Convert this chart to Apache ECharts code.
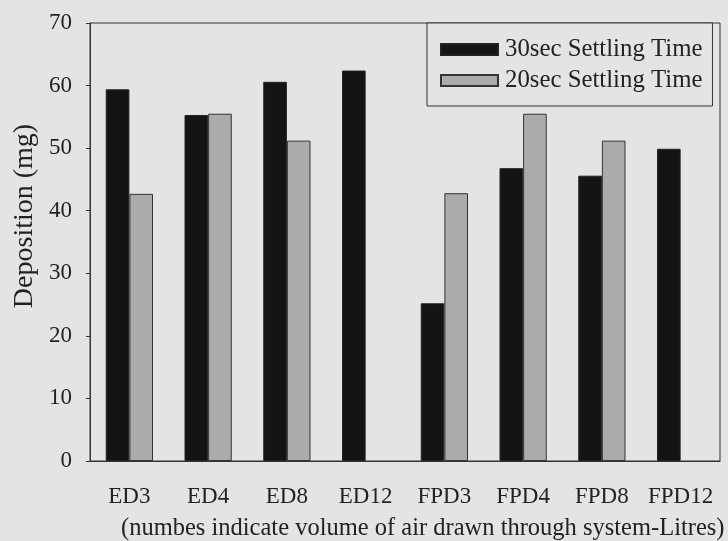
<!DOCTYPE html>
<html>
<head>
<meta charset="utf-8">
<script src="https://cdn.jsdelivr.net/npm/echarts@6/dist/echarts.min.js"></script>
<style>
  html, body { margin: 0; padding: 0; background: #e4e4e4; }
  #chart { width: 728px; height: 541px; }
</style>
</head>
<body>
<div id="chart"></div>
<script>
// Sampling configurations (number = litres of air drawn through the system)
const categories = ['ED3', 'ED4', 'ED8', 'ED12', 'FPD3', 'FPD4', 'FPD8', 'FPD12'];
// Deposition in mg for each settling time
const settling30 = [59.4, 55.3, 60.6, 62.4, 25.2, 46.8, 45.6, 49.9];
const settling20 = [42.7, 55.5, 51.2, null, 42.8, 55.5, 51.2, null];
const seriesNames = ['30sec Settling Time', '20sec Settling Time'];
const yTicks = { min: 0, max: 70, interval: 10 };

const serif = '"Liberation Serif", "Times New Roman", serif';
const ink = '#222';

const chart = echarts.init(document.getElementById('chart'), null, { renderer: 'canvas' });
chart.setOption({
  backgroundColor: '#e4e4e4',
  animation: false,
  textStyle: { fontFamily: serif, color: ink },
  grid: {
    left: 90, right: 8, top: 23, bottom: 80,
    show: true, borderColor: '#333', borderWidth: 1, backgroundColor: 'transparent'
  },
  legend: {
    left: 427, top: 23,
    orient: 'vertical',
    icon: 'rect',
    itemWidth: 57, itemHeight: 11,
    itemGap: 6,
    padding: [14, 10, 13, 13],
    borderColor: '#333', borderWidth: 1,
    backgroundColor: '#e4e4e4',
    textStyle: { fontFamily: serif, fontSize: 24.8, color: ink, padding: [0, 0, 0, 2] },
    data: seriesNames
  },
  xAxis: {
    type: 'category',
    data: categories,
    axisLine: { lineStyle: { color: '#333', width: 1 } },
    axisTick: { alignWithLabel: true, length: 5, lineStyle: { color: '#333' } },
    axisLabel: { interval: 0, fontFamily: serif, fontSize: 23, color: ink, margin: 24 }
  },
  yAxis: {
    type: 'value',
    min: yTicks.min, max: yTicks.max, interval: yTicks.interval,
    axisLine: { show: true, lineStyle: { color: '#333', width: 1 } },
    axisTick: { show: true, length: 4, lineStyle: { color: '#333' } },
    axisLabel: { fontFamily: serif, fontSize: 23, color: ink, margin: 18 },
    splitLine: { show: false }
  },
  graphic: [
    {
      // vertical axis title
      type: 'text',
      x: 25, y: 216,
      rotation: Math.PI / 2,
      style: {
        text: 'Deposition (mg)',
        font: '28px ' + serif,
        fill: ink,
        align: 'center',
        verticalAlign: 'middle'
      }
    },
    {
      // note under the category labels
      type: 'text',
      left: 121, top: 516,
      style: {
        text: '(numbes indicate volume of air drawn through system-Litres)',
        font: '24.5px ' + serif,
        fill: ink
      }
    }
  ],
  series: [
    {
      name: seriesNames[0],
      type: 'bar',
      data: settling30,
      barGap: '0%',
      barCategoryGap: '40%',
      itemStyle: { color: '#141414', borderColor: '#222', borderWidth: 1 }
    },
    {
      name: seriesNames[1],
      type: 'bar',
      data: settling20,
      itemStyle: { color: '#ababab', borderColor: '#333', borderWidth: 1 }
    }
  ]
});
</script>
</body>
</html>
